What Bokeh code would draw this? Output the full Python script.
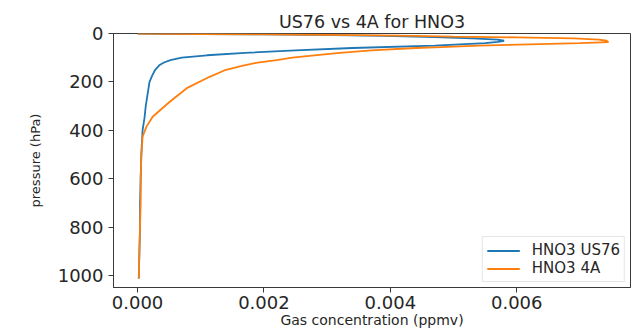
from bokeh.plotting import figure
from bokeh.models import Range1d, FixedTicker, PrintfTickFormatter, Legend, LegendItem
from bokeh.embed import file_html
from bokeh.resources import INLINE

# ---- data ----
pressure_us76 = [0.005, 1, 2, 4, 7, 10, 15, 20, 25, 30, 35, 40, 45, 50, 60, 70, 80, 90,
                 100, 110, 120, 130, 150, 175, 200, 250, 300, 350, 400, 450, 500, 600,
                 700, 800, 900, 1013]
conc_us76 = [0.0, 0.0004, 0.0010, 0.0020, 0.0031, 0.0039, 0.0047, 0.0053, 0.0057, 0.0058,
             0.0057, 0.0055, 0.0051, 0.0047, 0.0034, 0.0025, 0.0017, 0.0011, 0.0007,
             0.00052, 0.00042, 0.00035, 0.00028, 0.00023, 0.00019, 0.00016, 0.00013,
             0.00011, 0.00008, 0.00007, 0.00006, 0.00005, 0.00004, 0.00004, 0.00003,
             0.00002]

pressure_4a = [0.005, 1, 2, 4, 6, 8, 10, 13, 16, 20, 25, 30, 36, 40, 45, 50, 56, 60, 70,
               80, 90, 100, 110, 120, 133, 150, 179, 226, 282, 344, 386, 427, 510, 600,
               700, 800, 900, 1013]
conc_4a = [0.0, 0.0004, 0.0010, 0.0020, 0.0030, 0.0038, 0.0044, 0.0050, 0.0060, 0.0069,
           0.0073, 0.00742, 0.00745, 0.0070, 0.0062, 0.0054, 0.0048, 0.0044, 0.0037,
           0.0032, 0.0028, 0.00245, 0.0022, 0.0019, 0.00167, 0.0014, 0.00114, 0.00078,
           0.00051, 0.00024, 0.00014, 0.00008, 0.00006, 0.00005, 0.00005, 0.00004,
           0.00003, 0.00002]

x_ticks = [0.0, 0.002, 0.004, 0.006]
y_ticks = [0, 200, 400, 600, 800, 1000]
series_labels = ["HNO3 US76", "HNO3 4A"]

FONT = "DejaVu Sans"
TXT = "#262626"
SPINE = "#3a3a3a"

p = figure(width=632, height=330, output_backend="svg", toolbar_location=None,
           x_range=Range1d(-0.00038, 0.0078), y_range=Range1d(1050, 0),
           title="US76 vs 4A for HNO3",
           min_border_left=113, min_border_right=2, min_border_top=33, min_border_bottom=43)

p.background_fill_color = "white"
p.border_fill_color = "white"
p.outline_line_color = SPINE
p.outline_line_width = 1
p.grid.visible = False

p.title.text_font = FONT
p.title.text_font_size = "17.5px"
p.title.text_font_style = "normal"
p.title.text_color = TXT
p.title.align = "center"
p.title.standoff = 4

r1 = p.line(conc_us76, pressure_us76, line_color="#1f77b4", line_width=1.8)
r2 = p.line(conc_4a, pressure_4a, line_color="#ff7f0e", line_width=1.8)

for ax in (p.xaxis[0], p.yaxis[0]):
    ax.axis_line_color = SPINE
    ax.major_tick_line_color = SPINE
    ax.major_tick_out = 5
    ax.major_tick_in = 0
    ax.minor_tick_line_color = None
    ax.major_label_text_font = FONT
    ax.major_label_text_font_size = "18px"
    ax.major_label_text_color = TXT
    ax.axis_label_text_font = FONT
    ax.axis_label_text_font_style = "normal"
    ax.axis_label_text_color = TXT

p.xaxis.ticker = FixedTicker(ticks=x_ticks)
p.xaxis.formatter = PrintfTickFormatter(format="%.3f")
p.xaxis.axis_label = "Gas concentration (ppmv)"
p.xaxis.axis_label_text_font_size = "14px"
p.xaxis.major_label_standoff = 3
p.xaxis.axis_label_standoff = 0

p.yaxis.ticker = FixedTicker(ticks=y_ticks)
p.yaxis.axis_label = "pressure (hPa)"
p.yaxis.axis_label_text_font_size = "13px"
p.yaxis.major_label_standoff = 5
p.yaxis.axis_label_standoff = 12

legend = Legend(items=[LegendItem(label=series_labels[0], renderers=[r1]),
                       LegendItem(label=series_labels[1], renderers=[r2])],
                location="bottom_right")
legend.label_text_font = FONT
legend.label_text_font_size = "15px"
legend.label_text_color = TXT
legend.border_line_color = "#cccccc"
legend.border_line_width = 1
legend.background_fill_color = "white"
legend.background_fill_alpha = 0.8
legend.margin = 5
legend.padding = 4
legend.spacing = 0
legend.glyph_width = 33
legend.glyph_height = 17
legend.label_height = 17
legend.label_standoff = 12
p.add_layout(legend)

open("out.html", "w").write(file_html(p, INLINE))
